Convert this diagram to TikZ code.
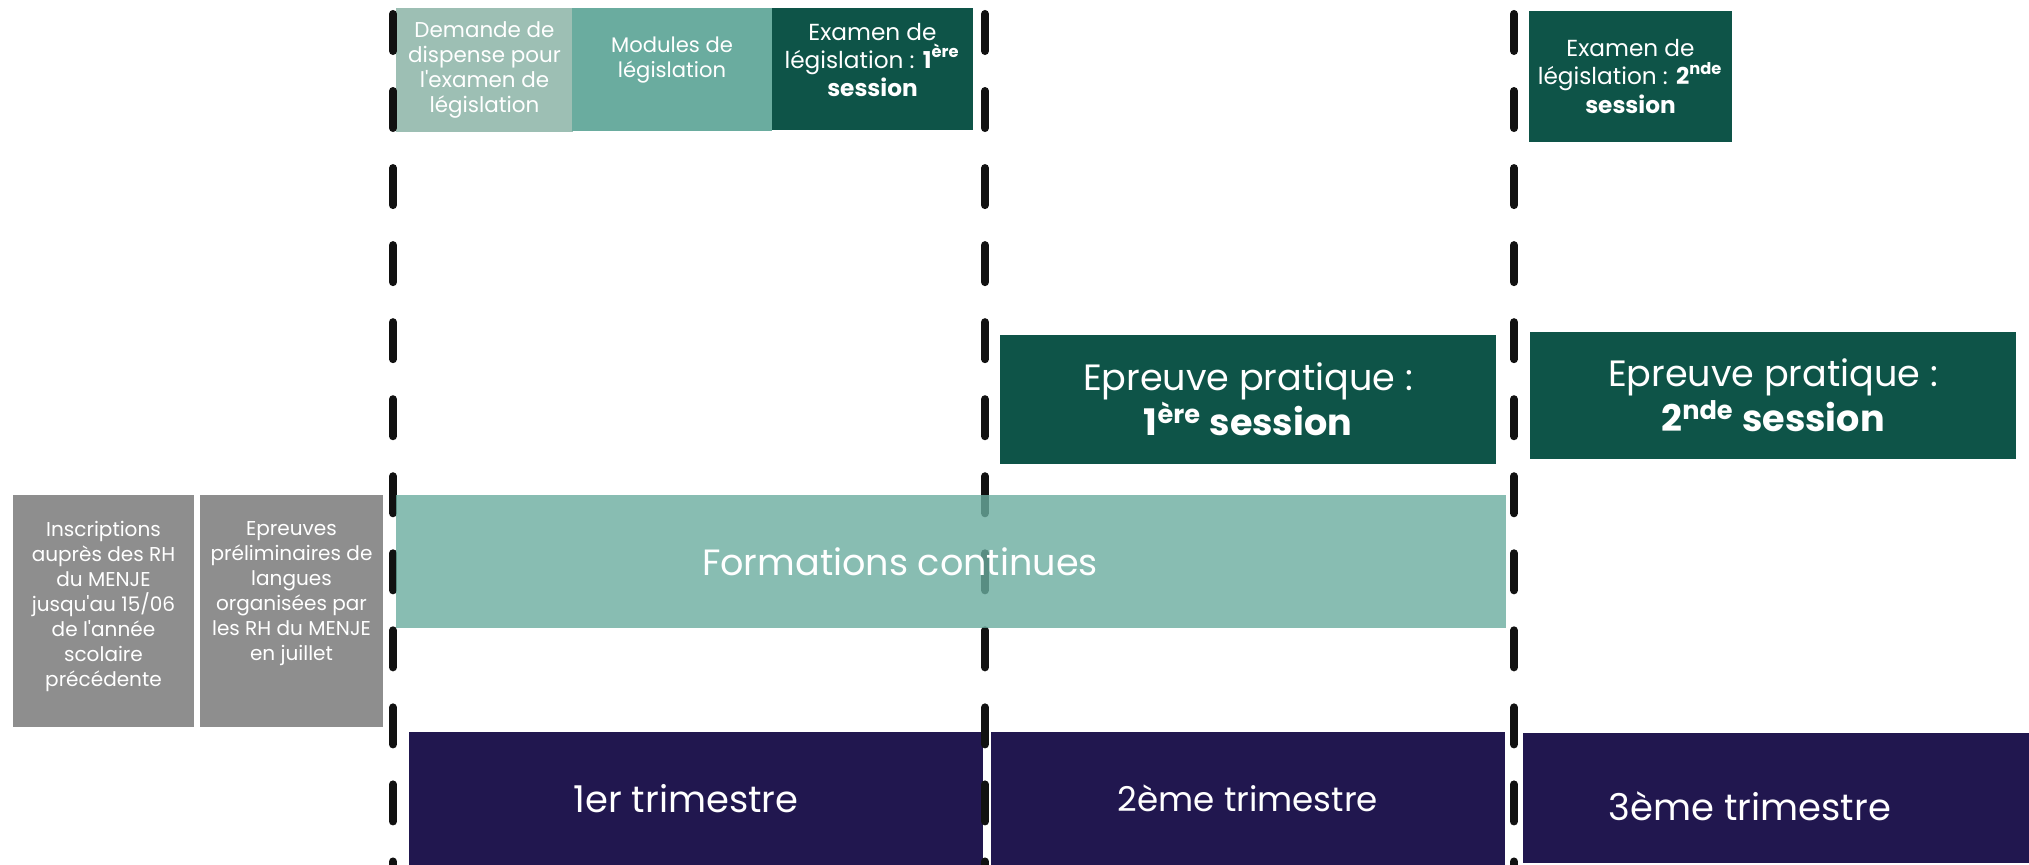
\documentclass[tikz,border=0pt]{standalone}
\usepackage{fontspec}
\setmainfont{Poppins}[Ligatures=TeXOff]
\usepackage{xcolor}
\usepackage{tikz}

\definecolor{sagegreen}{HTML}{9DBFB4}
\definecolor{modgreen}{HTML}{6AAC9F}
\definecolor{examgreen}{HTML}{0E5448}
\definecolor{trimnavy}{HTML}{21174F}
\definecolor{inscgrey}{HTML}{8E8E8E}
\definecolor{sepblack}{HTML}{111111}

\tikzset{
    box/.style={rectangle, inner sep=0pt, align=center, text=white},
    greytxt/.style={box, font=\fontsize{5.7}{7.1}\selectfont},
    smalltxt/.style={box, font=\fontsize{6.1}{7.1}\selectfont},
    modtxt/.style={box, font=\fontsize{6}{7.1}\selectfont},
    examtxt/.style={box, font=\fontsize{6.6}{8}\selectfont},
    bigtxt/.style={box, font=\fontsize{10.4}{12.8}\selectfont},
    trimtxt/.style={box, font=\fontsize{10.5}{13}\selectfont},
    sepline/.style={draw=sepblack, line width=0.08cm, line cap=round, dash pattern=on 0.37cm off 0.40cm},
}

\begin{document}
\begin{tikzpicture}[x=0.01cm, y=-0.01cm]
    \useasboundingbox (0,0) rectangle (2029,865);

    \node[box, fill=inscgrey, minimum width=1.81cm, minimum height=2.32cm] (inscr) at (103.5,611) {};
    \node[box, fill=inscgrey, minimum width=1.83cm, minimum height=2.32cm] (prelim) at (291.5,611) {};
    \node[greytxt, anchor=north] (inscrtxt) at (103.5,521) {Inscriptions\\auprès des RH\\du MENJE\\jusqu'au 15/06\\de l'année\\scolaire\\précédente};
    \node[greytxt, anchor=north] (prelimtxt) at (291.5,521) {Epreuves\\préliminaires de\\langues\\organisées par\\les RH du MENJE\\en juillet};

    \node[smalltxt, fill=sagegreen, minimum width=1.76cm, minimum height=1.24cm] (demande) at (484.5,70) {Demande de\\dispense pour\\l'examen de\\législation};
    \node[box, fill=modgreen, minimum width=2cm, minimum height=1.23cm] (modules) at (672,69.5) {};
    \node[modtxt] (modulestxt) at (672,60) {Modules de\\législation};
    \node[box, fill=examgreen, minimum width=2.01cm, minimum height=1.22cm] (examen1) at (872.5,69) {};
    \node[examtxt] (examen1txt) at (872.5,60) {Examen de\\législation : \textbf{1\textsuperscript{ère}}\\\textbf{session}};
    \node[examtxt, fill=examgreen, minimum width=2.03cm, minimum height=1.31cm] (examen2) at (1630.5,76.5) {Examen de\\législation : \textbf{2\textsuperscript{nde}}\\\textbf{session}};

    \node[bigtxt, fill=examgreen, minimum width=4.96cm, minimum height=1.29cm] (pratique1) at (1248,399.5) {Epreuve pratique :\\\textbf{1\textsuperscript{ère} session}};
    \node[bigtxt, fill=examgreen, minimum width=4.86cm, minimum height=1.27cm] (pratique2) at (1773,395.5) {Epreuve pratique :\\\textbf{2\textsuperscript{nde} session}};

    \node[box, fill=trimnavy, minimum width=5.74cm, minimum height=1.33cm] (trim1) at (696,798.5) {};
    \node[trimtxt] (trim1txt) at (686,798.5) {1er trimestre};
    \node[trimtxt, font=\fontsize{9.7}{12}\selectfont, fill=trimnavy, minimum width=5.14cm, minimum height=1.33cm] (trim2) at (1248,798.5) {2ème trimestre};
    \node[box, fill=trimnavy, minimum width=5.06cm, minimum height=1.30cm] (trim3) at (1776,798) {};
    \node[trimtxt] (trim3txt) at (1750,806) {3ème trimestre};

    \foreach \x in {393,985,1514}
        \draw[sepline] (\x,14) -- (\x,880);

    \node[box, fill=modgreen, fill opacity=0.8, minimum width=11.1cm, minimum height=1.33cm] (formations) at (951,561.5) {};
    \node[bigtxt] (formationstxt) at (900,562) {Formations continues};
\end{tikzpicture}
\end{document}
